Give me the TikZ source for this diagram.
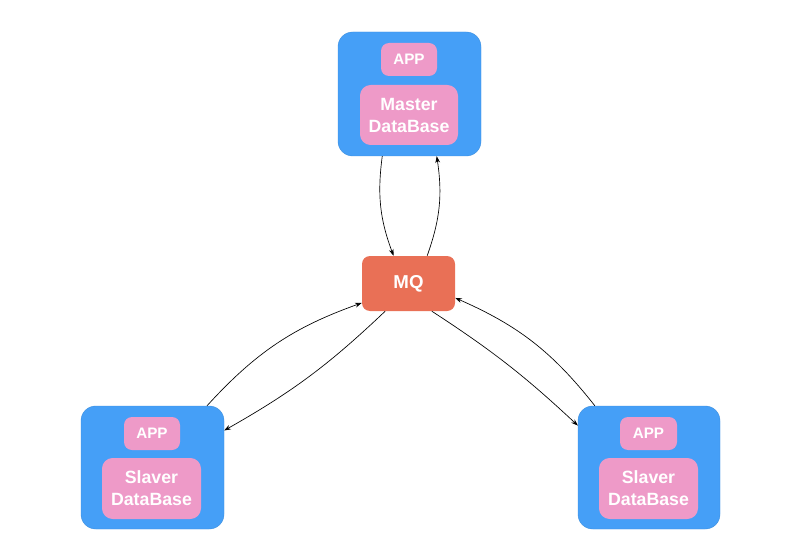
\documentclass[tikz,border=0pt]{standalone}
\usepackage{fontspec}
\setmainfont{Liberation Sans}
\usetikzlibrary{arrows.meta,calc}
\definecolor{boxblue}{RGB}{69,159,247}
\definecolor{pinkbox}{RGB}{238,154,200}
\definecolor{mqcol}{RGB}{233,112,86}
\tikzset{
  outer/.style={fill=boxblue, draw=boxblue!90!black, line width=0.3pt, rounded corners=11pt, inner sep=0pt},
  pinkbox/.style={fill=pinkbox, rounded corners=8pt, inner sep=0pt, text=white, font=\bfseries\fontsize{13.3}{16.5}\selectfont, align=center},
  appbox/.style={fill=pinkbox, rounded corners=6pt, inner sep=0pt, text=white, font=\bfseries\fontsize{11.4}{13}\selectfont},
  mqbox/.style={fill=mqcol, rounded corners=6pt, inner sep=0pt, text=white, font=\bfseries\fontsize{14}{16}\selectfont},
  conn/.style={line width=0.5pt, -{Stealth[length=5pt,width=3.6pt]}},
}
\begin{document}
\begin{tikzpicture}[x=0.75pt,y=-0.75pt]
\useasboundingbox (0,0) rectangle (810,556);
% master
\node[outer, minimum width=107.25pt, minimum height=93pt] (master) at (409.5,94) {};
\node[appbox, minimum width=42pt, minimum height=24.75pt] (mapp) at (409,59.5) {APP};
\node[pinkbox, minimum width=73.5pt, minimum height=45pt] (mdb) at (409,115) {Master\\DataBase};
% mq
\node[mqbox, minimum width=69.75pt, minimum height=41.25pt] (mq) at (408.5,283.5) {MQ};
% left
\node[outer, minimum width=107.25pt, minimum height=92.25pt] (lbox) at (152.5,467.5) {};
\node[appbox, minimum width=42pt, minimum height=24.75pt] (lapp) at (152,433.5) {APP};
\node[pinkbox, minimum width=74.25pt, minimum height=45.75pt] (ldb) at (151.5,488.5) {Slaver\\DataBase};
% right
\node[outer, minimum width=106.5pt, minimum height=92.25pt] (rbox) at (649,467.5) {};
\node[appbox, minimum width=42.75pt, minimum height=24.75pt] (rapp) at (648.5,433.5) {APP};
\node[pinkbox, minimum width=74.25pt, minimum height=45.75pt] (rdb) at (648.5,488.5) {Slaver\\DataBase};
% connector end points
\coordinate (m1) at ($(master.south west)!0.31!(master.south east)$);
\coordinate (m2) at ($(master.south west)!0.69!(master.south east)$);
\coordinate (q1) at ($(mq.north west)!0.34!(mq.north east)$);
\coordinate (q2) at ($(mq.north west)!0.70!(mq.north east)$);
\coordinate (q3) at ($(mq.north west)!0.85!(mq.south west)$);
\coordinate (q4) at ($(mq.south west)!0.25!(mq.south east)$);
\coordinate (q5) at ($(mq.south west)!0.75!(mq.south east)$);
\coordinate (q6) at ($(mq.north east)!0.76!(mq.south east)$);
\coordinate (l1) at ($(lbox.north west)!0.88!(lbox.north east)$);
\coordinate (l2) at ($(lbox.north east)!0.20!(lbox.south east)$);
\coordinate (r1) at ($(rbox.north west)!0.12!(rbox.north east)$);
\coordinate (r2) at ($(rbox.north west)!0.16!(rbox.south west)$);
% connectors
\draw[conn] (m1) to[bend right=14] (q1);
\draw[conn] (q2) to[bend right=14] (m2);
\draw[conn] (l1) to[bend left=14] (q3);
\draw[conn] (q4) to[bend left=7] (l2);
\draw[conn] (q5) to[bend left=5] (r2);
\draw[conn] (r1) to[bend right=14] (q6);
\end{tikzpicture}
\end{document}
